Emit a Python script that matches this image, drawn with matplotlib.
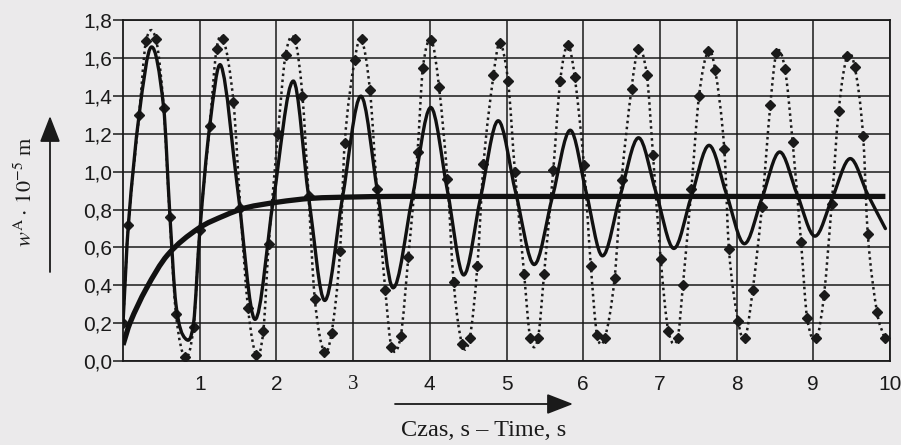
import numpy as np
import matplotlib
matplotlib.use("Agg")
import matplotlib.pyplot as plt
from matplotlib.path import Path
from matplotlib.patches import PathPatch, FancyArrowPatch
from matplotlib.ticker import FixedLocator, FuncFormatter

plt.rcParams['mathtext.fontset'] = 'stix'
plt.rcParams['font.family'] = ['Liberation Sans', 'DejaVu Sans']

# ---- data ----
t_dotted = [0.00, 0.07, 0.21, 0.30, 0.43, 0.53, 0.61, 0.69, 0.81, 0.92,
            1.00, 1.13, 1.22, 1.31, 1.44, 1.53, 1.63, 1.74, 1.83, 1.90,
            2.02, 2.12, 2.24, 2.34, 2.42, 2.50, 2.62, 2.72, 2.83, 2.89,
            3.02, 3.11, 3.22, 3.31, 3.42, 3.50, 3.62, 3.72, 3.84, 3.91,
            4.02, 4.12, 4.23, 4.31, 4.42, 4.52, 4.62, 4.70, 4.83, 4.91,
            5.02, 5.11, 5.23, 5.31, 5.41, 5.49, 5.61, 5.70, 5.80, 5.89,
            6.01, 6.10, 6.18, 6.28, 6.41, 6.50, 6.63, 6.72, 6.83, 6.91,
            7.01, 7.11, 7.23, 7.30, 7.41, 7.51, 7.63, 7.72, 7.84, 7.90,
            8.02, 8.11, 8.21, 8.33, 8.44, 8.52, 8.63, 8.73, 8.84, 8.92,
            9.04, 9.14, 9.24, 9.33, 9.44, 9.54, 9.65, 9.71, 9.83, 9.93]
w_dotted = [0.20, 0.72, 1.30, 1.69, 1.70, 1.34, 0.76, 0.25, 0.02, 0.18,
            0.69, 1.24, 1.65, 1.70, 1.37, 0.81, 0.28, 0.03, 0.16, 0.62,
            1.20, 1.62, 1.70, 1.40, 0.87, 0.33, 0.05, 0.15, 0.58, 1.15,
            1.59, 1.70, 1.43, 0.91, 0.375, 0.075, 0.13, 0.55, 1.105, 1.55,
            1.695, 1.45, 0.96, 0.42, 0.09, 0.12, 0.50, 1.04, 1.51, 1.68,
            1.48, 1.00, 0.46, 0.12, 0.12, 0.46, 1.01, 1.48, 1.67, 1.50,
            1.035, 0.50, 0.14, 0.12, 0.44, 0.955, 1.44, 1.65, 1.51, 1.09,
            0.54, 0.16, 0.12, 0.40, 0.91, 1.40, 1.64, 1.54, 1.12, 0.59,
            0.21, 0.12, 0.375, 0.815, 1.355, 1.63, 1.545, 1.16, 0.63, 0.225,
            0.12, 0.35, 0.83, 1.32, 1.61, 1.555, 1.19, 0.67, 0.26, 0.12]

t_solid = [0.00, 0.07, 0.21, 0.37, 0.53, 0.61, 0.69, 0.81, 0.92, 1.00,
           1.13, 1.28, 1.50, 1.72, 1.96, 2.22, 2.42, 2.63, 2.86, 3.10,
           3.32, 3.52, 3.77, 4.01, 4.23, 4.44, 4.66, 4.89, 5.12, 5.36,
           5.60, 5.83, 6.04, 6.25, 6.48, 6.72, 6.95, 7.18, 7.41, 7.64,
           7.87, 8.10, 8.33, 8.56, 8.79, 9.02, 9.25, 9.48, 9.71, 9.94]
w_solid = [0.20, 0.72, 1.30, 1.66, 1.34, 0.78, 0.30, 0.12, 0.20, 0.68,
           1.24, 1.56, 0.89, 0.22, 0.85, 1.48, 0.87, 0.32, 0.86, 1.40,
           0.89, 0.387, 0.86, 1.34, 0.90, 0.455, 0.86, 1.27, 0.89, 0.51,
           0.87, 1.22, 0.89, 0.556, 0.87, 1.18, 0.89, 0.595, 0.87, 1.14,
           0.88, 0.62, 0.86, 1.105, 0.88, 0.66, 0.865, 1.07, 0.88, 0.70]

t_mono = [0.00, 0.09, 0.30, 0.58, 0.98, 1.33, 1.60, 2.02, 2.46, 3.00,
          3.50, 4.00, 5.00, 6.00, 7.00, 8.00, 9.00, 9.94]
w_mono = [0.085, 0.20, 0.38, 0.56, 0.70, 0.77, 0.81, 0.84, 0.86, 0.867,
          0.87, 0.87, 0.87, 0.87, 0.87, 0.87, 0.87, 0.87]

x_ticks = [1, 2, 3, 4, 5, 6, 7, 8, 9, 10]
y_ticks = [0.0, 0.2, 0.4, 0.6, 0.8, 1.0, 1.2, 1.4, 1.6, 1.8]


def smooth_path(xs, ys):
    """Cubic Hermite (Bezier) path through the points, smooth in x."""
    x = np.asarray(xs, float)
    y = np.asarray(ys, float)
    n = len(x)
    m = np.empty(n)
    m[0] = (y[1] - y[0]) / (x[1] - x[0])
    m[-1] = (y[-1] - y[-2]) / (x[-1] - x[-2])
    m[1:-1] = (y[2:] - y[:-2]) / (x[2:] - x[:-2])
    verts = [(x[0], y[0])]
    codes = [Path.MOVETO]
    for i in range(n - 1):
        h = x[i + 1] - x[i]
        verts += [(x[i] + h / 3, y[i] + m[i] * h / 3),
                  (x[i + 1] - h / 3, y[i + 1] - m[i + 1] * h / 3),
                  (x[i + 1], y[i + 1])]
        codes += [Path.CURVE4] * 3
    return Path(verts, codes)


ink = '#1a1a1a'
bg = '#ebeaeb'
fig = plt.figure(figsize=(9.01, 4.45), dpi=100, facecolor=bg)
ax = fig.add_axes([123 / 901, 1 - 361 / 445, 767 / 901, 340.5 / 445])
ax.set_facecolor(bg)
ax.set_xlim(0, 10)
ax.set_ylim(0, 1.8)

# grid
ax.xaxis.set_major_locator(FixedLocator(x_ticks))
ax.yaxis.set_major_locator(FixedLocator(y_ticks))
ax.grid(True, color=ink, linewidth=1.1)
ax.set_axisbelow(True)
for s in ax.spines.values():
    s.set_color(ink)
    s.set_linewidth(1.3)

# series
ax.add_patch(PathPatch(smooth_path(t_dotted, w_dotted), fill=False,
                       edgecolor=ink, linewidth=1.8,
                       linestyle=(0, (1, 1.4)), zorder=3))
ax.plot(t_dotted, w_dotted, linestyle='none', marker='D', markersize=5.5,
        color=ink, zorder=4)
ax.add_patch(PathPatch(smooth_path(t_solid, w_solid), fill=False,
                       edgecolor='#111111', linewidth=2.4, zorder=5,
                       capstyle='round', joinstyle='round'))
ax.add_patch(PathPatch(smooth_path(t_mono, w_mono), fill=False,
                       edgecolor='#111111', linewidth=3.8, zorder=6,
                       capstyle='butt'))

# ticks
ax.tick_params(axis='y', length=7, width=1.1, color=ink, pad=1,
               labelsize=15, labelcolor=ink)
ax.tick_params(axis='x', length=0, pad=10, labelsize=15, labelcolor=ink)
ax.yaxis.set_major_formatter(FuncFormatter(lambda v, p: f"{v:.1f}".replace('.', ',')))
ax.xaxis.set_major_formatter(FuncFormatter(lambda v, p: f"{int(round(v))}"))
for lbl in ax.get_xticklabels():
    if lbl.get_text() == '3':
        lbl.set_family('Liberation Serif')

# axis titles
fig.text(484 / 901, 1 - 431 / 445, 'Czas, s – Time, s', family='Liberation Serif',
         fontsize=17.5, ha='center', va='center', color=ink)
fig.text(26 / 901, 1 - 192 / 445, r'$w^{\mathrm{A}}\cdot\,10^{-5}$ m',
         family='Liberation Serif', fontsize=16, rotation=90,
         ha='center', va='center', color=ink)

# arrows
arrow_style = '-|>,head_length=0.9,head_width=0.35'
fig.patches.append(FancyArrowPatch(
    (395 / 901, 1 - 404 / 445), (573 / 901, 1 - 404 / 445),
    transform=fig.transFigure, arrowstyle=arrow_style,
    mutation_scale=18, color=ink, linewidth=1.3, shrinkA=0, shrinkB=0))
fig.patches.append(FancyArrowPatch(
    (50 / 901, 1 - 272 / 445), (50 / 901, 1 - 116 / 445),
    transform=fig.transFigure, arrowstyle=arrow_style,
    mutation_scale=18, color=ink, linewidth=1.3, shrinkA=0, shrinkB=0))

fig.savefig('out.png', dpi=100, facecolor=bg)
